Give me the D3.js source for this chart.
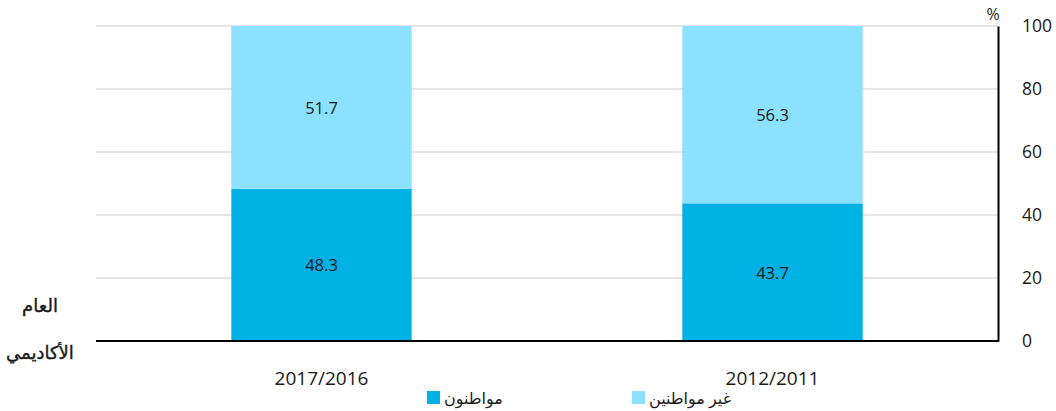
<!DOCTYPE html>
<html>
<head>
<meta charset="utf-8">
<script src="https://cdn.jsdelivr.net/npm/d3@7"></script>
<style>
  html, body { margin: 0; padding: 0; background: #fff; }
  svg { display: block; }
  text { font-family: "Open Sans", "DejaVu Sans", sans-serif; fill: #1a1a1a; }
</style>
</head>
<body>
<svg id="chart" width="1056" height="411"></svg>
<script>
// Academic years (categories) and the share of each group, in percent
const years = ["2017/2016", "2012/2011"];
const citizens = [48.3, 43.7];
const nonCitizens = [51.7, 56.3];
const yTicks = [0, 20, 40, 60, 80, 100];
const seriesNames = ["مواطنون", "غير مواطنين"];
const seriesColors = ["#00b1e4", "#8ce1fe"];

const svg = d3.select("#chart");
const plotLeft = 96, plotRight = 998, plotTop = 26, plotBottom = 341;

const x = d3.scaleBand().domain(years).range([plotLeft, plotRight])
  .paddingInner(0.6).paddingOuter(0.3);
const y = d3.scaleLinear().domain([0, 100]).range([plotBottom, plotTop]);

// Horizontal gridlines
svg.append("g").selectAll("line").data(yTicks.filter(d => d > 0)).join("line")
  .attr("x1", plotLeft).attr("x2", plotRight)
  .attr("y1", d => y(d)).attr("y2", d => y(d))
  .attr("stroke", "#dddddd").attr("stroke-width", 1.5);

// Stacked bars
const rows = years.map((yr, i) => ({ year: yr, c: citizens[i], n: nonCitizens[i] }));
const stack = d3.stack().keys(["c", "n"])(rows);

const layers = svg.append("g").selectAll("g").data(stack).join("g")
  .attr("fill", (d, i) => seriesColors[i]);
layers.selectAll("rect").data(d => d).join("rect")
  .attr("x", d => x(d.data.year))
  .attr("width", x.bandwidth())
  .attr("y", d => y(d[1]))
  .attr("height", d => y(d[0]) - y(d[1]));

// Segment value labels
layers.selectAll("text").data((d, i) => d.map(p => ({ p, key: stack[i].key }))).join("text")
  .attr("x", d => x(d.p.data.year) + x.bandwidth() / 2)
  .attr("y", d => (y(d.p[0]) + y(d.p[1])) / 2)
  .attr("text-anchor", "middle")
  .attr("dominant-baseline", "central")
  .attr("font-size", 16.5)
  .attr("fill", "#1a1a1a")
  .text(d => d3.format(".1f")(d.p.data[d.key]));

// Right-hand y axis
const yAxis = svg.append("g").attr("transform", `translate(${plotRight},0)`)
  .call(d3.axisRight(y).tickValues(yTicks).tickSize(0).tickPadding(24));
yAxis.select(".domain").attr("stroke", "#000").attr("stroke-width", 2);
yAxis.selectAll("text").attr("font-size", 17.5).attr("fill", "#1a1a1a")
  .attr("font-family", "'Open Sans', sans-serif");

svg.append("text").attr("x", 993).attr("y", 14)
  .attr("text-anchor", "middle").attr("dominant-baseline", "central")
  .attr("font-size", 16).text("%");

// Bottom x axis
const xAxis = svg.append("g").attr("transform", `translate(0,${plotBottom})`)
  .call(d3.axisBottom(x).tickSize(0).tickPadding(28));
xAxis.select(".domain").attr("stroke", "#000").attr("stroke-width", 2)
  .attr("d", `M${plotLeft},0H${plotRight + 1}`);
xAxis.selectAll("text").attr("font-size", 19).attr("fill", "#1a1a1a")
  .attr("font-family", "'Open Sans', sans-serif")
  .attr("dy", 0).attr("dominant-baseline", "central").attr("y", 37);

// Axis title
const titleLines = [["العام", 305], ["الأكاديمي", 352]];
svg.append("g").selectAll("text").data(titleLines).join("text")
  .attr("x", 40).attr("y", d => d[1])
  .attr("text-anchor", "middle").attr("dominant-baseline", "central")
  .attr("font-size", 18)
  .attr("stroke", "#1a1a1a").attr("stroke-width", 0.4)
  .text(d => d[0]);

// Legend
const legendX = [427, 632];
const legend = svg.append("g").selectAll("g").data(seriesNames).join("g")
  .attr("transform", (d, i) => `translate(${legendX[i]},391)`);
legend.append("rect").attr("width", 13).attr("height", 13)
  .attr("fill", (d, i) => seriesColors[i]);
legend.append("text").attr("x", 17).attr("y", 6.5)
  .attr("dominant-baseline", "central")
  .attr("font-size", 16).text(d => d);
</script>
</body>
</html>
